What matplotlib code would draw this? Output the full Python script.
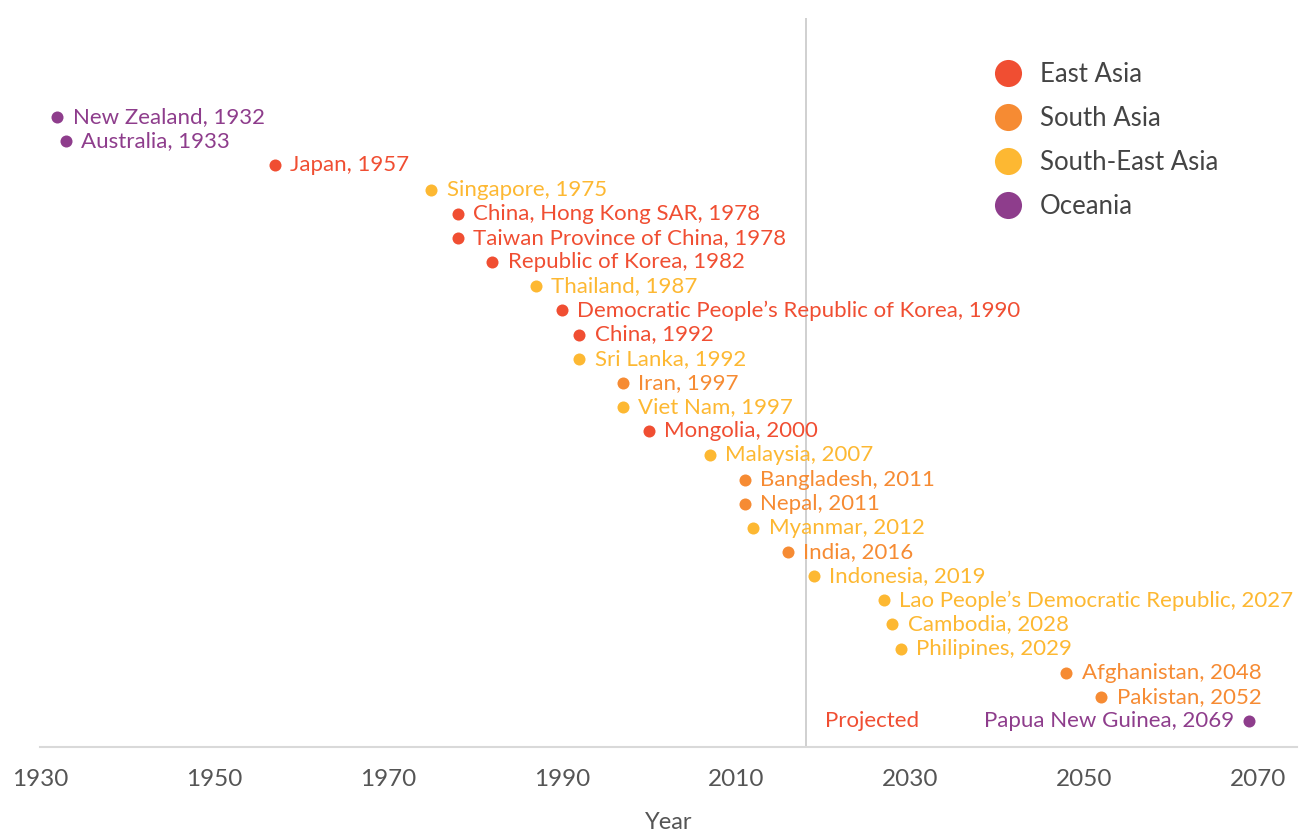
import matplotlib
matplotlib.use("Agg")
from matplotlib import pyplot as plt
from matplotlib.lines import Line2D

countries = [
    "New Zealand", "Australia", "Japan", "Singapore", "China, Hong Kong SAR",
    "Taiwan Province of China", "Republic of Korea", "Thailand",
    "Democratic People\u2019s Republic of Korea", "China", "Sri Lanka", "Iran",
    "Viet Nam", "Mongolia", "Malaysia", "Bangladesh", "Nepal", "Myanmar",
    "India", "Indonesia", "Lao People\u2019s Democratic Republic", "Cambodia",
    "Philipines", "Afghanistan", "Pakistan", "Papua New Guinea",
]
years = [
    1932, 1933, 1957, 1975, 1978, 1978, 1982, 1987, 1990, 1992, 1992, 1997,
    1997, 2000, 2007, 2011, 2011, 2012, 2016, 2019, 2027, 2028, 2029, 2048,
    2052, 2069,
]
regions = [
    "Oceania", "Oceania", "East Asia", "South-East Asia", "East Asia",
    "East Asia", "East Asia", "South-East Asia", "East Asia", "East Asia",
    "South-East Asia", "South Asia", "South-East Asia", "East Asia",
    "South-East Asia", "South Asia", "South Asia", "South-East Asia",
    "South Asia", "South-East Asia", "South-East Asia", "South-East Asia",
    "South-East Asia", "South Asia", "South Asia", "Oceania",
]
region_order = ["East Asia", "South Asia", "South-East Asia", "Oceania"]
colors = {
    "East Asia": "#F04E32",
    "South Asia": "#F68B33",
    "South-East Asia": "#FDB832",
    "Oceania": "#8E3D8C",
}
x_ticks = [1930, 1950, 1970, 1990, 2010, 2030, 2050, 2070]
projection_start = 2018

plt.rcParams["font.family"] = ["Lato", "DejaVu Sans"]

fig = plt.figure(figsize=(13.01, 8.32), dpi=100)
ax = fig.add_axes([40 / 1301, 85 / 832, 1257 / 1301, 729 / 832])

for i, (name, year, region) in enumerate(zip(countries, years, regions)):
    c = colors[region]
    ax.scatter(year, i, s=75, color=c, zorder=3, linewidths=0)
    if name == "Papua New Guinea":
        ax.annotate(f"{name}, {year}", (year, i), xytext=(-11, 0),
                    textcoords="offset points", ha="right", va="center",
                    color=c, fontsize=16)
    else:
        ax.annotate(f"{name}, {year}", (year, i), xytext=(11, 0),
                    textcoords="offset points", ha="left", va="center",
                    color=c, fontsize=16)

ax.axvline(projection_start, color="#c8c8c8", lw=1.2, zorder=1)
ax.annotate("Projected", (projection_start, len(countries) - 1),
            xytext=(14, 0), textcoords="offset points", ha="left",
            va="center", color=colors["East Asia"], fontsize=16)

ax.set_xlim(1930, 2074.5)
ax.set_ylim(26.07, -4.1)
ax.set_yticks([])
ax.set_xticks(x_ticks)
ax.set_xticklabels([str(t) for t in x_ticks], fontsize=17.5, color="#555555")
ax.tick_params(axis="x", length=0, pad=16)
ax.set_xlabel("Year", fontsize=17, color="#555555", labelpad=16)
for side in ["top", "right", "left"]:
    ax.spines[side].set_visible(False)
ax.spines["bottom"].set_color("#d9d9d9")
ax.spines["bottom"].set_linewidth(1.5)

handles = [
    Line2D([], [], marker="o", linestyle="", markersize=19.5,
           markerfacecolor=colors[r], markeredgewidth=0, label=r)
    for r in region_order
]
ax.legend(handles=handles, loc="upper left",
          bbox_to_anchor=((982 - 40) / 1257, (747 - 62) / 729),
          frameon=False, fontsize=18.5, labelcolor="#444444",
          handletextpad=0.25, labelspacing=0.74, borderpad=0, borderaxespad=0)

plt.savefig("out.png", dpi=100)
